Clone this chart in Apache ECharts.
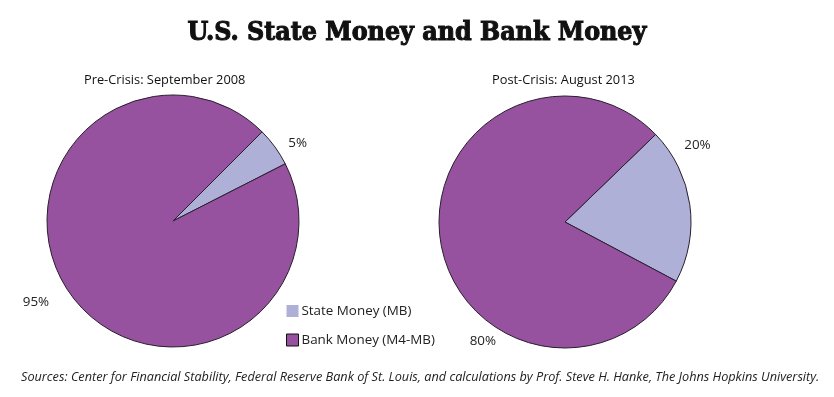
<!DOCTYPE html>
<html><head><meta charset="utf-8">
<script src="https://cdn.jsdelivr.net/npm/echarts@6/dist/echarts.min.js"></script>
<style>html,body{margin:0;padding:0;background:#fff}#c{width:834px;height:397px}</style>
</head><body><div id="c"></div>
<script>
const categories = ['State Money (MB)', 'Bank Money (M4-MB)'];
const preCrisis = [5, 95];
const postCrisis = [20, 80];
const panelTitles = ['Pre-Crisis: September 2008', 'Post-Crisis: August 2013'];
const mainTitle = 'U.S. State Money and Bank Money';
const sourceNote = 'Sources: Center for Financial Stability, Federal Reserve Bank of St. Louis, and calculations by Prof. Steve H. Hanke, The Johns Hopkins University.';

const COLORS = ['#AFB0D7', '#96519F'];
const centers = [[173, 221], [565, 222]];
const R = 126;
const startAngles = [45, 44];
// label placement: [angle deg, distance px] from pie centre
const labelPlace = [[[32, 147], [210.5, 159]], [[30, 153], [235.5, 145]]];

const chart = echarts.init(document.getElementById('c'));
const labelFont = {fontFamily: '"Open Sans", "Noto Sans", sans-serif', fontSize: 13.4, color: '#222'};

function pieSeries(vals, idx) {
  return {
    type: 'pie',
    center: centers[idx],
    radius: R,
    startAngle: startAngles[idx],
    clockwise: true,
    silent: true,
    avoidLabelOverlap: false,
    itemStyle: {borderColor: '#2a1f2e', borderWidth: 1},
    label: Object.assign({show: true, position: 'outside',
      formatter: p => Math.round(p.percent) + '%'}, labelFont),
    labelLine: {show: false},
    labelLayout: function (p) {
      const pl = labelPlace[idx][p.dataIndex];
      const a = pl[0] * Math.PI / 180;
      return {x: centers[idx][0] + pl[1] * Math.cos(a), y: centers[idx][1] - pl[1] * Math.sin(a),
              align: 'center', verticalAlign: 'middle'};
    },
    data: categories.map((n, i) => ({name: n, value: vals[i], itemStyle: {color: COLORS[i]}}))
  };
}

chart.setOption({
  animation: false,
  backgroundColor: '#fff',
  title: [
    {text: mainTitle, left: 'center', top: 20, padding: 0,
     textStyle: {fontFamily: '"DejaVu Serif Condensed", "DejaVu Serif", serif', fontWeight: 900, fontSize: 26.5, color: '#111',
                 textBorderColor: '#111', textBorderWidth: 1}},
    {text: panelTitles[0], left: 84, top: 74, padding: 0,
     textStyle: {fontFamily: '"Open Sans", sans-serif', fontWeight: 'normal', fontSize: 12.8, color: '#111'}},
    {text: panelTitles[1], left: 492, top: 74, padding: 0,
     textStyle: {fontFamily: '"Open Sans", sans-serif', fontWeight: 'normal', fontSize: 12.8, color: '#111'}},
    {text: sourceNote, left: 21, top: 371, padding: 0,
     textStyle: {fontFamily: '"Open Sans", sans-serif', fontStyle: 'italic', fontWeight: 'normal', fontSize: 12.7, color: '#222'}}
  ],
  legend: {
    orient: 'vertical', left: 286, top: 304, padding: 0,
    icon: 'rect',
    itemWidth: 12, itemHeight: 12, itemGap: 15,
    selectedMode: false,
    textStyle: {fontFamily: '"Open Sans", "Noto Sans", sans-serif', fontSize: 13.4, color: '#222', lineHeight: 14, padding: [0, 0, 0, -2]},
    data: [
      {name: categories[0], itemStyle: {borderWidth: 0}},
      {name: categories[1], itemStyle: {borderColor: '#111', borderWidth: 1}}
    ]
  },
  series: [pieSeries(preCrisis, 0), pieSeries(postCrisis, 1)]
});
</script></body></html>
